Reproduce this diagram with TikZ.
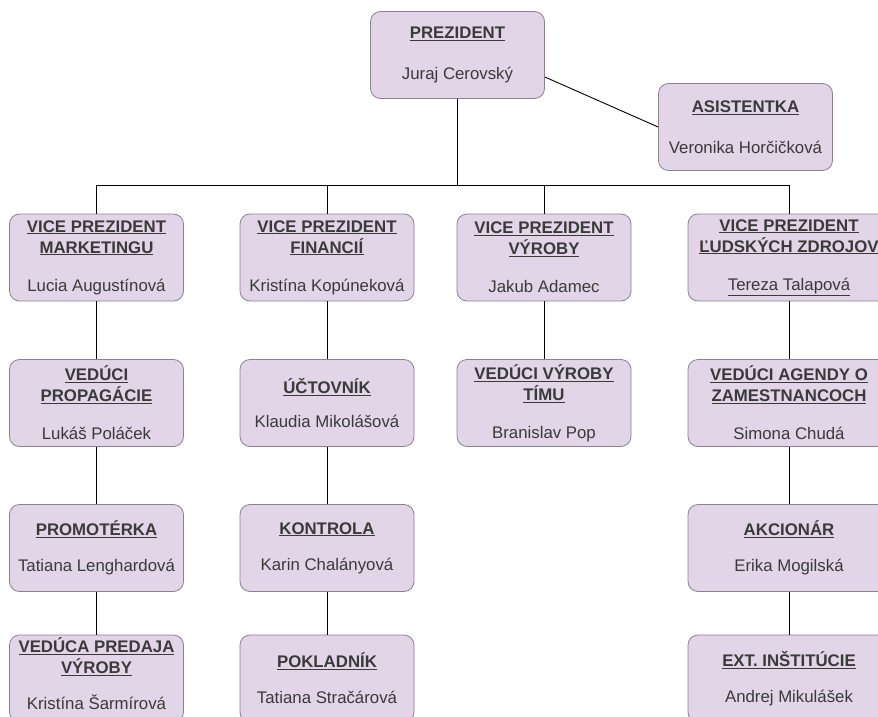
\documentclass[tikz,border=0pt]{standalone}
\usepackage{fontspec}
\setmainfont{Liberation Sans}
\definecolor{boxfill}{HTML}{E1D5E7}
\definecolor{boxdraw}{HTML}{8F7F96}
\definecolor{txt}{HTML}{3A3A3A}
\newcommand{\ttl}[1]{\underline{\textbf{#1}}}
\begin{document}
\begin{tikzpicture}[x=1pt,y=1pt,
  box/.style={draw=boxdraw, line width=0.8pt, fill=boxfill, rounded corners=10pt,
    minimum width=174pt, minimum height=87pt, align=center, text=txt, inner sep=0pt,
    font=\fontsize{16.8}{21}\selectfont},
  wbox/.style={box, minimum width=202pt},
  conn/.style={draw=black, line width=0.9pt}]
\useasboundingbox (0,0) rectangle (878,-717);
\fill[white] (0,0) rectangle (878,-717);
% top
\node[box] (pres) at (457.5,-55) {\ttl{PREZIDENT}\\[20pt]Juraj Cerovský};
\node[box] (asist) at (745.5,-127) {\ttl{ASISTENTKA}\\[20pt]Veronika Horčičková};
% row 1
\node[box] (vp1) at (96.5,-257.5) {\ttl{VICE PREZIDENT}\\\ttl{MARKETINGU}\\[17pt]Lucia Augustínová};
\node[box] (vp2) at (327,-257.5) {\ttl{VICE PREZIDENT}\\\ttl{FINANCIÍ}\\[17pt]Kristína Kopúneková};
\node[box] (vp3) at (544,-257.5) {\ttl{VICE PREZIDENT}\\\ttl{VÝROBY}\\[17pt]Jakub Adamec};
\node[wbox] (vp4) at (789,-257.5) {\ttl{VICE PREZIDENT}\\\ttl{ĽUDSKÝCH ZDROJOV}\\[17pt]\underline{Tereza Talapová}};
% row 2
\node[box] (r2a) at (96.5,-403) {\ttl{VEDÚCI}\\\ttl{PROPAGÁCIE}\\[17pt]Lukáš Poláček};
\node[box] (r2b) at (327,-403) {\ttl{ÚČTOVNÍK}\\[13pt]Klaudia Mikolášová};
\node[box] (r2c) at (544,-403) {\ttl{VEDÚCI VÝROBY}\\\ttl{TÍMU}\\[17pt]Branislav Pop};
\node[wbox] (r2d) at (789,-403) {\ttl{VEDÚCI AGENDY O}\\\ttl{ZAMESTNANCOCH}\\[17pt]Simona Chudá};
% row 3
\node[box] (r3a) at (96.5,-548) {\ttl{PROMOTÉRKA}\\[15pt]Tatiana Lenghardová};
\node[box] (r3b) at (327,-548) {\ttl{KONTROLA}\\[15pt]Karin Chalányová};
\node[wbox] (r3d) at (789,-548) {\ttl{AKCIONÁR}\\[15pt]Erika Mogilská};
% row 4
\node[box] (r4a) at (96.5,-678.5) {\ttl{VEDÚCA PREDAJA}\\\ttl{VÝROBY}\\[15pt]Kristína Šarmírová\\[-11pt]\mbox{}};
\node[box] (r4b) at (327,-678.5) {\ttl{POKLADNÍK}\\[15pt]Tatiana Stračárová};
\node[wbox] (r4d) at (789,-678.5) {\ttl{EXT. INŠTITÚCIE}\\[15pt]Andrej Mikulášek};
% connectors
\coordinate (bar) at (457.5,-185);
\draw[conn] (pres.south) -- (bar) -| (vp1.north);
\draw[conn] (bar) -| (vp2.north);
\draw[conn] (bar) -| (vp3.north);
\draw[conn] (bar) -| (vp4.north);
\draw[conn] ([yshift=-22pt]pres.east) -- (asist.west);
\draw[conn] (vp1.south) -- (r2a.north);
\draw[conn] (r2a.south) -- (r3a.north);
\draw[conn] (r3a.south) -- (r4a.north);
\draw[conn] (vp2.south) -- (r2b.north);
\draw[conn] (r2b.south) -- (r3b.north);
\draw[conn] (r3b.south) -- (r4b.north);
\draw[conn] (vp3.south) -- (r2c.north);
\draw[conn] (vp4.south) -- (r2d.north);
\draw[conn] (r2d.south) -- (r3d.north);
\draw[conn] (r3d.south) -- (r4d.north);
\end{tikzpicture}
\end{document}
